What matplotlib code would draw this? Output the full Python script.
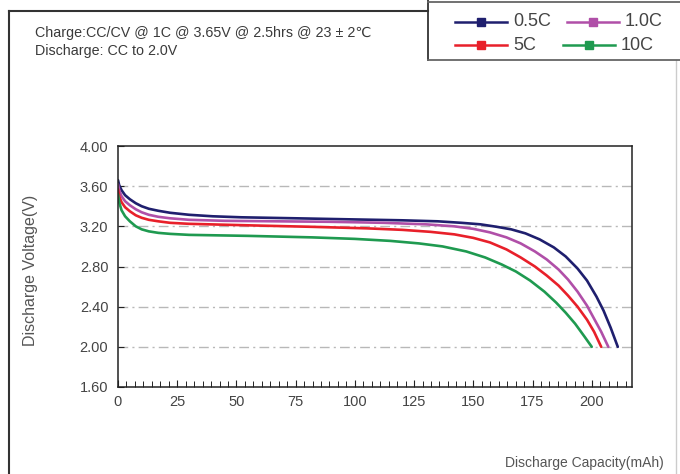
import matplotlib.pyplot as plt
from matplotlib.ticker import MultipleLocator
from matplotlib.lines import Line2D

plt.rcParams['font.family'] = ['Liberation Sans', 'DejaVu Sans']

# discharge curves, capacity (mAh) vs voltage (V)
cap_05 = [0, 0.5, 1.5, 3, 5, 7.5, 10, 13, 17, 22, 30, 40, 52, 75, 97, 120, 135, 145, 153, 160,
          166, 172, 178, 184, 189, 194, 198, 202, 205, 208, 211]
volt_05 = [3.66, 3.61, 3.56, 3.51, 3.47, 3.43, 3.40, 3.375, 3.355, 3.335, 3.315, 3.30, 3.29, 3.28,
           3.27, 3.26, 3.25, 3.235, 3.22, 3.195, 3.17, 3.13, 3.07, 2.99, 2.90, 2.78, 2.66, 2.50,
           2.36, 2.19, 2.00]

cap_10 = [0, 0.5, 1.5, 3, 5, 7.5, 10, 13, 17, 22, 30, 45, 67, 90, 112, 130, 142, 150, 157, 164,
          170, 176, 181, 186, 190, 194, 198, 201, 204, 207]
volt_10 = [3.62, 3.56, 3.50, 3.45, 3.41, 3.37, 3.34, 3.315, 3.295, 3.28, 3.265, 3.255, 3.25, 3.245,
           3.235, 3.22, 3.20, 3.175, 3.14, 3.09, 3.03, 2.95, 2.87, 2.77, 2.67, 2.55, 2.41, 2.28,
           2.15, 2.00]

cap_5 = [0, 0.5, 1.5, 3, 5, 7.5, 10, 13, 17, 22, 30, 55, 82, 105, 120, 132, 142, 150, 157, 164,
         170, 176, 181, 186, 190, 194, 198, 201, 204]
volt_5 = [3.57, 3.50, 3.44, 3.39, 3.35, 3.31, 3.285, 3.265, 3.25, 3.235, 3.225, 3.21, 3.195, 3.18,
          3.165, 3.145, 3.12, 3.085, 3.04, 2.97, 2.89, 2.80, 2.71, 2.61, 2.51, 2.40, 2.27, 2.15, 2.00]

cap_100 = [0, 0.5, 1.5, 3, 5, 7.5, 10, 13, 17, 22, 30, 55, 82, 100, 115, 127, 137, 147, 155, 162,
           168, 174, 180, 185, 189, 193, 197, 200]
volt_100 = [3.52, 3.44, 3.36, 3.30, 3.25, 3.20, 3.17, 3.15, 3.135, 3.125, 3.115, 3.105, 3.09, 3.075,
            3.055, 3.03, 3.00, 2.95, 2.89, 2.82, 2.75, 2.66, 2.55, 2.44, 2.34, 2.23, 2.10, 2.00]

labels = ['0.5C', '1.0C', '5C', '10C']
colors = ['#1f1f6e', '#b04fa8', '#e8202a', '#1f9a50']

fig = plt.figure(figsize=(6.8, 4.74), dpi=100)
ax = fig.add_axes([118 / 680, 1 - 387 / 474, (632 - 118) / 680, (387 - 146) / 474])

for c, v, col in zip([cap_05, cap_10, cap_5, cap_100], [volt_05, volt_10, volt_5, volt_100], colors):
    ax.plot(c, v, color=col, lw=1.9, solid_capstyle='round', solid_joinstyle='round')

ax.set_xlim(0, 217)
ax.set_ylim(1.6, 4.0)
ax.set_yticks([1.6, 2.0, 2.4, 2.8, 3.2, 3.6, 4.0])
ax.set_yticklabels(['1.60', '2.00', '2.40', '2.80', '3.20', '3.60', '4.00'])
ax.set_xticks([0, 25, 50, 75, 100, 125, 150, 175, 200])
ax.xaxis.set_minor_locator(MultipleLocator(25 / 7))
ax.tick_params(axis='both', direction='in', labelsize=10.5, colors='#222222', labelcolor='#444444')
ax.tick_params(axis='x', which='major', length=5, pad=6)
ax.tick_params(axis='x', which='minor', direction='in', length=4)
ax.tick_params(axis='y', length=4, pad=7)
for g in [2.0, 2.4, 2.8, 3.2, 3.6]:
    ax.axhline(g, color='#b8b8b8', lw=1.0, ls=(0, (7, 3, 1.5, 3)), zorder=0)
for s in ax.spines.values():
    s.set_color('#222222')
    s.set_linewidth(1.1)

# outer frame and notes
fig.add_artist(Line2D([9 / 680, 9 / 680], [0, 1 - 11 / 474], color='#333333', lw=1.5))
fig.add_artist(Line2D([9 / 680, 428 / 680], [1 - 11 / 474, 1 - 11 / 474], color='#333333', lw=1.5))
fig.add_artist(Line2D([676 / 680, 676 / 680], [0, 1 - 60 / 474], color='#cccccc', lw=1.0))
fig.text(35 / 680, 1 - 33 / 474, 'Charge:CC/CV @ 1C @ 3.65V @ 2.5hrs @ 23 \u00b1 2\u2103',
         fontsize=10.3, color='#3a3a3a', va='center')
fig.text(35 / 680, 1 - 51 / 474, 'Discharge: CC to 2.0V', fontsize=10.3, color='#3a3a3a', va='center')
fig.text(30 / 680, 1 - 270 / 474, 'Discharge Voltage(V)', rotation=90, fontsize=11.5,
         color='#555555', ha='center', va='center')
fig.text(664 / 680, 1 - 463 / 474, 'Discharge Capacity(mAh)', fontsize=10,
         color='#555555', ha='right', va='center')

# legend box
fig.add_artist(Line2D([428 / 680, 428 / 680], [1, 1 - 60 / 474], color='#333333', lw=1.3))
fig.add_artist(Line2D([428 / 680, 1], [1 - 60 / 474, 1 - 60 / 474], color='#666666', lw=1.3))
fig.add_artist(Line2D([428 / 680, 1], [1 - 2 / 474, 1 - 2 / 474], color='#666666', lw=1.3))
leg_x = [455, 567, 455, 563]
leg_y = [22, 22, 45, 45]
for lab, col, lx, ly in zip(labels, colors, leg_x, leg_y):
    y = 1 - ly / 474
    fig.add_artist(Line2D([lx / 680, (lx + 52) / 680], [y, y], color=col, lw=1.8))
    fig.add_artist(Line2D([(lx + 26) / 680], [y], color=col, marker='s', ms=6))
    fig.text((lx + 58) / 680, y, lab, fontsize=13, color='#444444', va='center')

fig.savefig('out.png', dpi=100)
